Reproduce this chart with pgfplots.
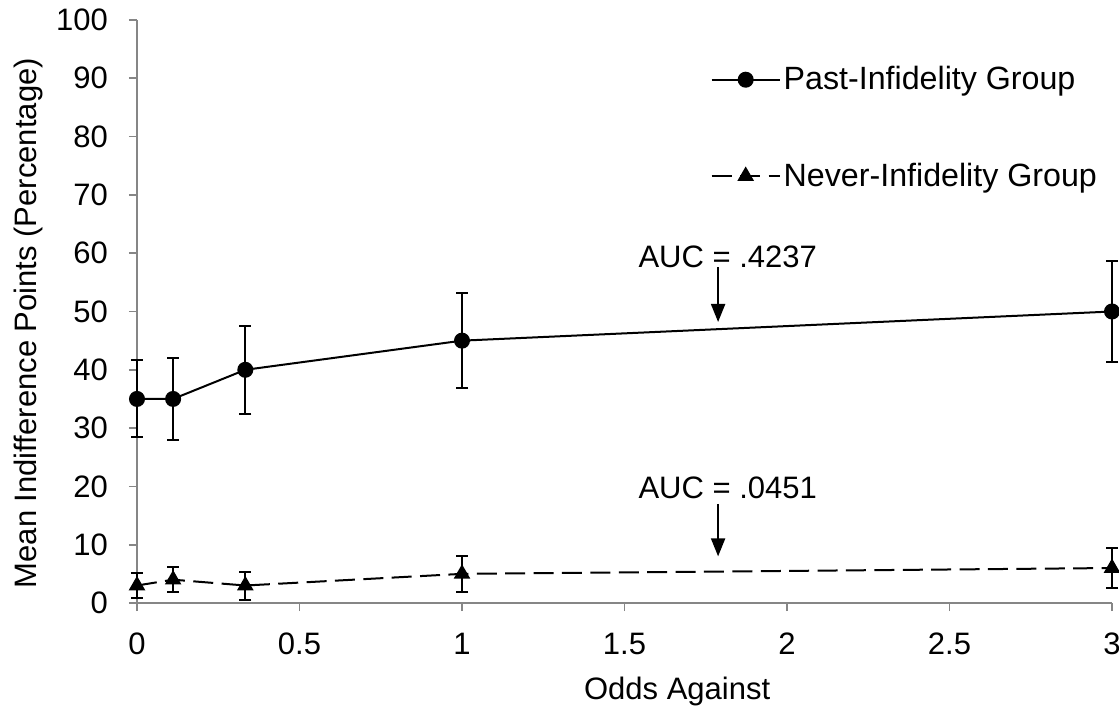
\documentclass[border=0pt]{standalone}
\usepackage{fontspec}
\setmainfont{Liberation Sans}
\usepackage{pgfplots}
\pgfplotsset{compat=1.18}
\usetikzlibrary{arrows.meta}

\definecolor{axgray}{HTML}{868686}

\begin{document}
\begin{tikzpicture}[font=\fontsize{15.5}{18}\selectfont]
  \begin{axis}[
      scale only axis,
      width=487.5pt,
      height=291.5pt,
      xmin=0, xmax=3,
      ymin=0, ymax=100,
      clip=false,
      axis x line*=bottom,
      axis y line*=left,
      axis line style={draw=axgray, line width=0.9pt},
      tick style={draw=axgray, line width=0.9pt},
      tick align=outside,
      major tick length=4pt,
      xtick={0,0.5,1,1.5,2,2.5,3},
      ytick={0,10,...,100},
      /pgf/number format/assume math mode=true,
      xticklabel style={yshift=-7.5pt},
      yticklabel style={xshift=-7pt},
      xlabel={Odds Against},
      ylabel={Mean Indifference Points (Percentage)},
      every axis x label/.style={at={(axis description cs:0.554,0)}, anchor=center, yshift=-44pt},
      every axis y label/.style={at={(axis description cs:0,0.48)}, anchor=center, xshift=-54.5pt, rotate=90},
      legend cell align=left,
      legend style={at={(rel axis cs:0.588,0.926)}, anchor=north west, draw=none, fill=none,
                    row sep=32pt, inner sep=0pt, font=\fontsize{16.1}{19}\selectfont,
                    nodes={inner sep=1.5pt}},
      legend image code/.code={%
        \draw[mark repeat=2, mark phase=2, #1] plot coordinates {(0pt,0pt) (17pt,0pt) (34pt,0pt)};},
    ]
    % past-infidelity group
    \addplot[black, line width=1pt, mark=*, mark size=3.5pt,
             error bars/.cd, y dir=both, y explicit,
             error bar style={line width=1pt},
             error mark options={rotate=90, mark size=3pt, line width=1pt}]
      coordinates {
        (0,35) +- (0,6.6)
        (0.1111,35) +- (0,7)
        (0.3333,40) +- (0,7.5)
        (1,45) +- (0,8.2)
        (3,50) +- (0,8.7)
      };
    \addlegendentry{Past-Infidelity Group}

    % never-infidelity group
    \addplot[black, line width=1pt, dash pattern=on 10pt off 4.2pt,
             mark=triangle*, mark size=3.8pt, mark options={solid},
             error bars/.cd, y dir=both, y explicit,
             error bar style={line width=1pt, solid},
             error mark options={rotate=90, mark size=3pt, line width=1pt, solid}]
      coordinates {
        (0,3) +- (0,2.1)
        (0.1111,4) +- (0,2.1)
        (0.3333,3) +- (0,2.4)
        (1,5) +- (0,3.1)
        (3,6) +- (0,3.5)
      };
    \addlegendentry{Never-Infidelity Group}

    \node[anchor=west, inner sep=0pt] at (axis cs:1.542,59.3) {AUC = .4237};
    \draw[line width=1pt, -{Triangle[width=7pt,length=9pt]}] (axis cs:1.788,57.6) -- (axis cs:1.788,48.2);
    \node[anchor=west, inner sep=0pt] at (axis cs:1.542,19.7) {AUC = .0451};
    \draw[line width=1pt, -{Triangle[width=7pt,length=9pt]}] (axis cs:1.788,17.0) -- (axis cs:1.788,8.0);
  \end{axis}
  \pgfresetboundingbox
  \path (-68.5pt,-55pt) rectangle (491pt,301.5pt);
\end{tikzpicture}
\end{document}
